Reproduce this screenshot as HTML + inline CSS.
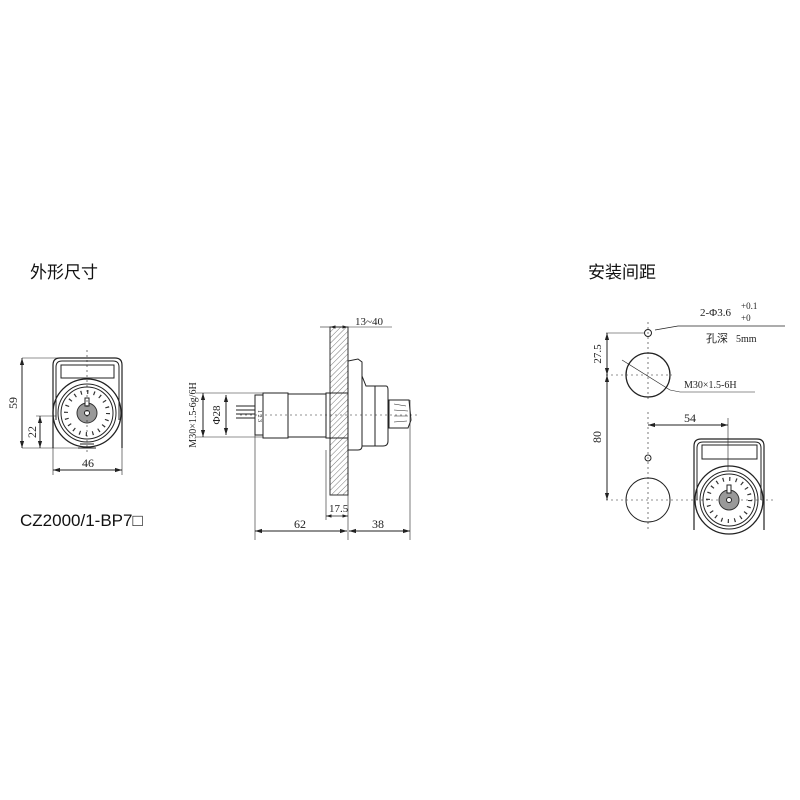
<!DOCTYPE html>
<html><head><meta charset="utf-8"><style>body{margin:0;background:#fff}svg{display:block}</style></head><body>
<svg width="800" height="800" viewBox="0 0 800 800" xmlns="http://www.w3.org/2000/svg" font-family="Liberation Serif, serif">
<defs>
<pattern id="h" width="4" height="4" patternUnits="userSpaceOnUse" patternTransform="rotate(45)"><line x1="0" y1="0" x2="0" y2="4" stroke="#555" stroke-width="0.8"/></pattern>
<marker id="a" viewBox="0 0 10 10" refX="10" refY="5" markerWidth="7" markerHeight="7" orient="auto-start-reverse"><path d="M0,2 L10,5 L0,8z" fill="#222"/></marker>
</defs>
<g fill="none" stroke="#222" stroke-width="1">
<text x="30" y="278" font-family="Liberation Sans, Noto Sans CJK SC, sans-serif" font-size="17" fill="#111" stroke="none">外形尺寸</text>
<text x="588" y="278" font-family="Liberation Sans, Noto Sans CJK SC, sans-serif" font-size="17" fill="#111" stroke="none">安装间距</text>

<path d="M53,448 L53,365 Q53,358 60,358 L115,358 Q122,358 122,365 L122,448" stroke-width="1.2"/>
<path d="M56,420 L56,367 Q56,361 62,361 L113,361 Q119,361 119,367 L119,420"/>
<rect x="61" y="365" width="53" height="13"/>
<circle cx="87" cy="413" r="34" stroke-width="1.3"/>
<circle cx="87" cy="413" r="29"/>
<circle cx="87" cy="413" r="26"/>
<circle cx="87" cy="413" r="21" stroke-width="4" stroke-dasharray="1.2,5.4" stroke="#333"/>
<circle cx="87" cy="413" r="10" fill="#999" stroke="#333"/>
<circle cx="87" cy="413" r="2.5" fill="#fff"/>
<rect x="85" y="398" width="4" height="8" fill="#fff"/>
<path d="M78,448 L96,448 M80,444 L94,444"/>
<line x1="87" y1="350" x2="87" y2="455" stroke-dasharray="2,3" stroke-width="0.6"/>
<line x1="22" y1="358" x2="60" y2="358" stroke-width="0.6"/>
<line x1="22" y1="448" x2="78" y2="448" stroke-width="0.6"/>
<line x1="36" y1="416" x2="56" y2="416" stroke-width="0.6"/>
<line x1="22" y1="358" x2="22" y2="448" marker-start="url(#a)" marker-end="url(#a)"/>
<line x1="40" y1="416" x2="40" y2="448" marker-start="url(#a)" marker-end="url(#a)"/>
<line x1="53" y1="448" x2="53" y2="475" stroke-width="0.6"/>
<line x1="122" y1="420" x2="122" y2="475" stroke-width="0.6"/>
<line x1="53" y1="470" x2="122" y2="470" marker-start="url(#a)" marker-end="url(#a)"/>
<text x="17" y="403" font-size="12" fill="#222" stroke="none" transform="rotate(-90 17 403)" text-anchor="middle">59</text>
<text x="36" y="432" font-size="12" fill="#222" stroke="none" transform="rotate(-90 36 432)" text-anchor="middle">22</text>
<text x="88" y="467" font-size="12" fill="#222" stroke="none" text-anchor="middle">46</text>
<text x="20" y="526" font-family="Liberation Sans, sans-serif" font-size="17" fill="#111" stroke="none">CZ2000/1-BP7□</text>

<rect x="330" y="327" width="18" height="168" fill="url(#h)" stroke="#333"/>
<line x1="320" y1="327" x2="330" y2="327" stroke-width="0.6"/>
<line x1="330" y1="327" x2="348" y2="327" marker-start="url(#a)" marker-end="url(#a)" stroke-width="0.8"/>
<line x1="348" y1="327" x2="392" y2="327" stroke-width="0.6"/>
<text x="355" y="325" font-size="11" fill="#222" stroke="none">13~40</text>
<path d="M236,406 H255 M236,410 H255 M236,414 H255 M236,418 H255"/>
<rect x="255" y="395" width="8" height="40"/>
<text x="258" y="410" font-size="6" fill="#222" stroke="none" transform="rotate(90 258 410)">1 2 3</text>
<rect x="263" y="393" width="25" height="45"/>
<rect x="288" y="394" width="38" height="43"/>
<rect x="326" y="393" width="22" height="45"/>
<path d="M348,450 L348,361 L358,359 L362,362 L362,446 Q362,450 358,450 Z"/>
<path d="M362,376 L366,386 L386,386 Q388,386 388,390 L388,441 Q388,446 383,446 L362,446"/>
<path d="M375,386 L375,446"/>
<path d="M389,400 L409,400 L411,420 L408,428 L389,428 Z"/>
<path d="M394,404 L406,406 M394,410 L408,411 M394,416 L408,416 M394,422 L407,421" stroke-width="0.6"/>
<line x1="240" y1="415" x2="420" y2="415" stroke-dasharray="2,3" stroke-width="0.6"/>
<line x1="196" y1="393" x2="263" y2="393" stroke-width="0.6"/>
<line x1="196" y1="437" x2="263" y2="437" stroke-width="0.6"/>
<line x1="203" y1="393" x2="203" y2="437" marker-start="url(#a)" marker-end="url(#a)"/>
<line x1="226" y1="395" x2="226" y2="435" marker-start="url(#a)" marker-end="url(#a)"/>
<text x="196" y="415" font-size="10" fill="#222" stroke="none" transform="rotate(-90 196 415)" text-anchor="middle">M30×1.5-6g/6H</text>
<text x="220" y="415" font-size="11" fill="#222" stroke="none" transform="rotate(-90 220 415)" text-anchor="middle">Φ28</text>
<line x1="255" y1="435" x2="255" y2="540" stroke-width="0.6"/>
<line x1="326" y1="450" x2="326" y2="520" stroke-width="0.6"/>
<line x1="348" y1="450" x2="348" y2="540" stroke-width="0.6"/>
<line x1="410" y1="400" x2="410" y2="540" stroke-width="0.6"/>
<line x1="326" y1="516" x2="348" y2="516" marker-start="url(#a)" marker-end="url(#a)" stroke-width="0.8"/>
<text x="329" y="512" font-size="11" fill="#222" stroke="none">17.5</text>
<line x1="255" y1="531" x2="347" y2="531" marker-start="url(#a)" marker-end="url(#a)"/>
<line x1="349" y1="531" x2="410" y2="531" marker-start="url(#a)" marker-end="url(#a)"/>
<text x="300" y="528" font-size="12" fill="#222" stroke="none" text-anchor="middle">62</text>
<text x="378" y="528" font-size="12" fill="#222" stroke="none" text-anchor="middle">38</text>

<text x="700" y="316" font-size="11" fill="#222" stroke="none">2-Φ3.6</text>
<text x="741" y="309" font-size="9" fill="#222" stroke="none">+0.1</text>
<text x="741" y="321" font-size="9" fill="#222" stroke="none">+0</text>
<path d="M655,330 L678,326 L785,326" stroke-width="0.7"/>
<text x="706" y="342" font-family="Liberation Sans, Noto Sans CJK SC, sans-serif" font-size="11" fill="#222" stroke="none">孔深</text>
<text x="736" y="342" font-size="10" fill="#222" stroke="none">5mm</text>
<circle cx="648" cy="333" r="3.5"/>
<circle cx="648" cy="375" r="22" stroke-width="1.3"/>
<circle cx="648" cy="458" r="3"/>
<circle cx="648" cy="500" r="22"/>
<line x1="648" y1="322" x2="648" y2="400" stroke-dasharray="2,3" stroke-width="0.6"/>
<line x1="648" y1="412" x2="648" y2="530" stroke-dasharray="2,3" stroke-width="0.6"/>
<line x1="606" y1="375" x2="672" y2="375" stroke-dasharray="2,3" stroke-width="0.6"/>
<line x1="606" y1="500" x2="775" y2="500" stroke-dasharray="2,3" stroke-width="0.6"/>
<line x1="606" y1="333" x2="645" y2="333" stroke-width="0.6"/>
<line x1="622" y1="360" x2="670" y2="390" stroke-width="0.6"/>
<path d="M670,390 L680,392 L755,392" stroke-width="0.6"/>
<text x="684" y="388" font-size="10" fill="#222" stroke="none">M30×1.5-6H</text>
<line x1="607" y1="333" x2="607" y2="375" marker-start="url(#a)" marker-end="url(#a)"/>
<line x1="607" y1="375" x2="607" y2="500" marker-start="url(#a)" marker-end="url(#a)"/>
<text x="601" y="354" font-size="11" fill="#222" stroke="none" transform="rotate(-90 601 354)" text-anchor="middle">27.5</text>
<text x="601" y="437" font-size="12" fill="#222" stroke="none" transform="rotate(-90 601 437)" text-anchor="middle">80</text>
<line x1="648" y1="425" x2="728" y2="425" marker-start="url(#a)" marker-end="url(#a)"/>
<line x1="728" y1="418" x2="728" y2="470" stroke-width="0.6"/>
<text x="690" y="422" font-size="12" fill="#222" stroke="none" text-anchor="middle">54</text>
<path d="M694,530 L694,446 Q694,439 701,439 L757,439 Q764,439 764,446 L764,530" stroke-width="1.2"/>
<path d="M697,500 L697,448 Q697,442 703,442 L755,442 Q761,442 761,448 L761,500"/>
<rect x="702" y="445" width="55" height="14"/>
<circle cx="729" cy="500" r="34" stroke-width="1.3"/>
<circle cx="729" cy="500" r="29"/>
<circle cx="729" cy="500" r="26"/>
<circle cx="729" cy="500" r="21" stroke-width="4" stroke-dasharray="1.2,5.4" stroke="#333"/>
<circle cx="729" cy="500" r="10" fill="#999" stroke="#333"/>
<circle cx="729" cy="500" r="2.5" fill="#fff"/>
<rect x="727" y="485" width="4" height="8" fill="#fff"/>
</g>
</svg>
</body></html>
